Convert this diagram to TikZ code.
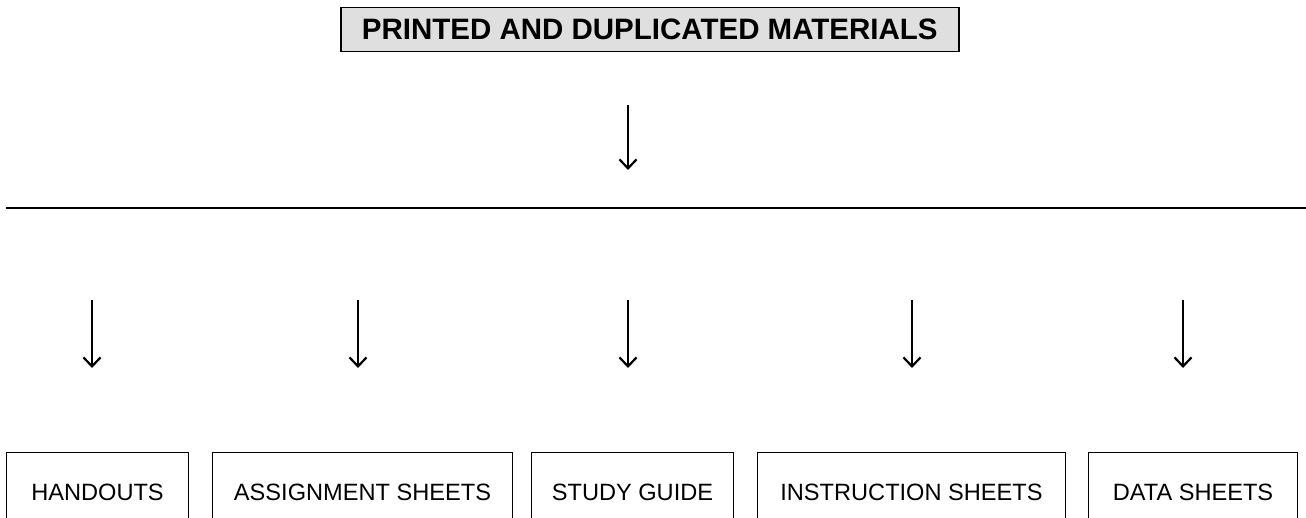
\documentclass[tikz,border=0pt]{standalone}
\usepackage{fontspec}
\setmainfont{Liberation Sans}
\usetikzlibrary{arrows.meta}
\begin{document}
\begin{tikzpicture}[x=1pt,y=-1pt,
  conn/.style={line width=2.5pt,-{Straight Barb[length=9pt,width=17pt,line width=2.2pt]}},
  leaf/.style={draw,line width=1pt,minimum height=80pt,anchor=north west,inner sep=0pt,
    font=\fontsize{23.6}{27}\selectfont},
  titlebox/.style={draw,line width=1.5pt,fill=gray!25,inner sep=0pt,anchor=north west,
    font=\fontsize{29.5}{32}\selectfont\bfseries}]
\useasboundingbox (0,0) rectangle (1306,518);
\clip (0,0) rectangle (1306,518);
\node[titlebox,minimum width=618pt,minimum height=44pt] (title) at (340,7) {PRINTED AND DUPLICATED MATERIALS};
\coordinate (t1) at (628,105);
\coordinate (t2) at (628,170);
\draw[conn] (t1) -- (t2);
\coordinate (hl) at (6,208);
\coordinate (hr) at (1306,208);
\draw[line width=1.4pt] (hl) -- (hr);
\foreach \x/\n in {92/a,358/b,628/c,912/d,1183/e}{
  \coordinate (s\n) at (\x,300);
  \coordinate (e\n) at (\x,368);
  \draw[conn] (s\n) -- (e\n);
}
\node[leaf,minimum width=182pt] (h1) at (6,452) {HANDOUTS};
\node[leaf,minimum width=300pt] (h2) at (212,452) {ASSIGNMENT SHEETS};
\node[leaf,minimum width=202pt] (h3) at (531,452) {STUDY GUIDE};
\node[leaf,minimum width=308pt] (h4) at (757,452) {INSTRUCTION SHEETS};
\node[leaf,minimum width=209pt] (h5) at (1088,452) {DATA SHEETS};
\end{tikzpicture}
\end{document}
